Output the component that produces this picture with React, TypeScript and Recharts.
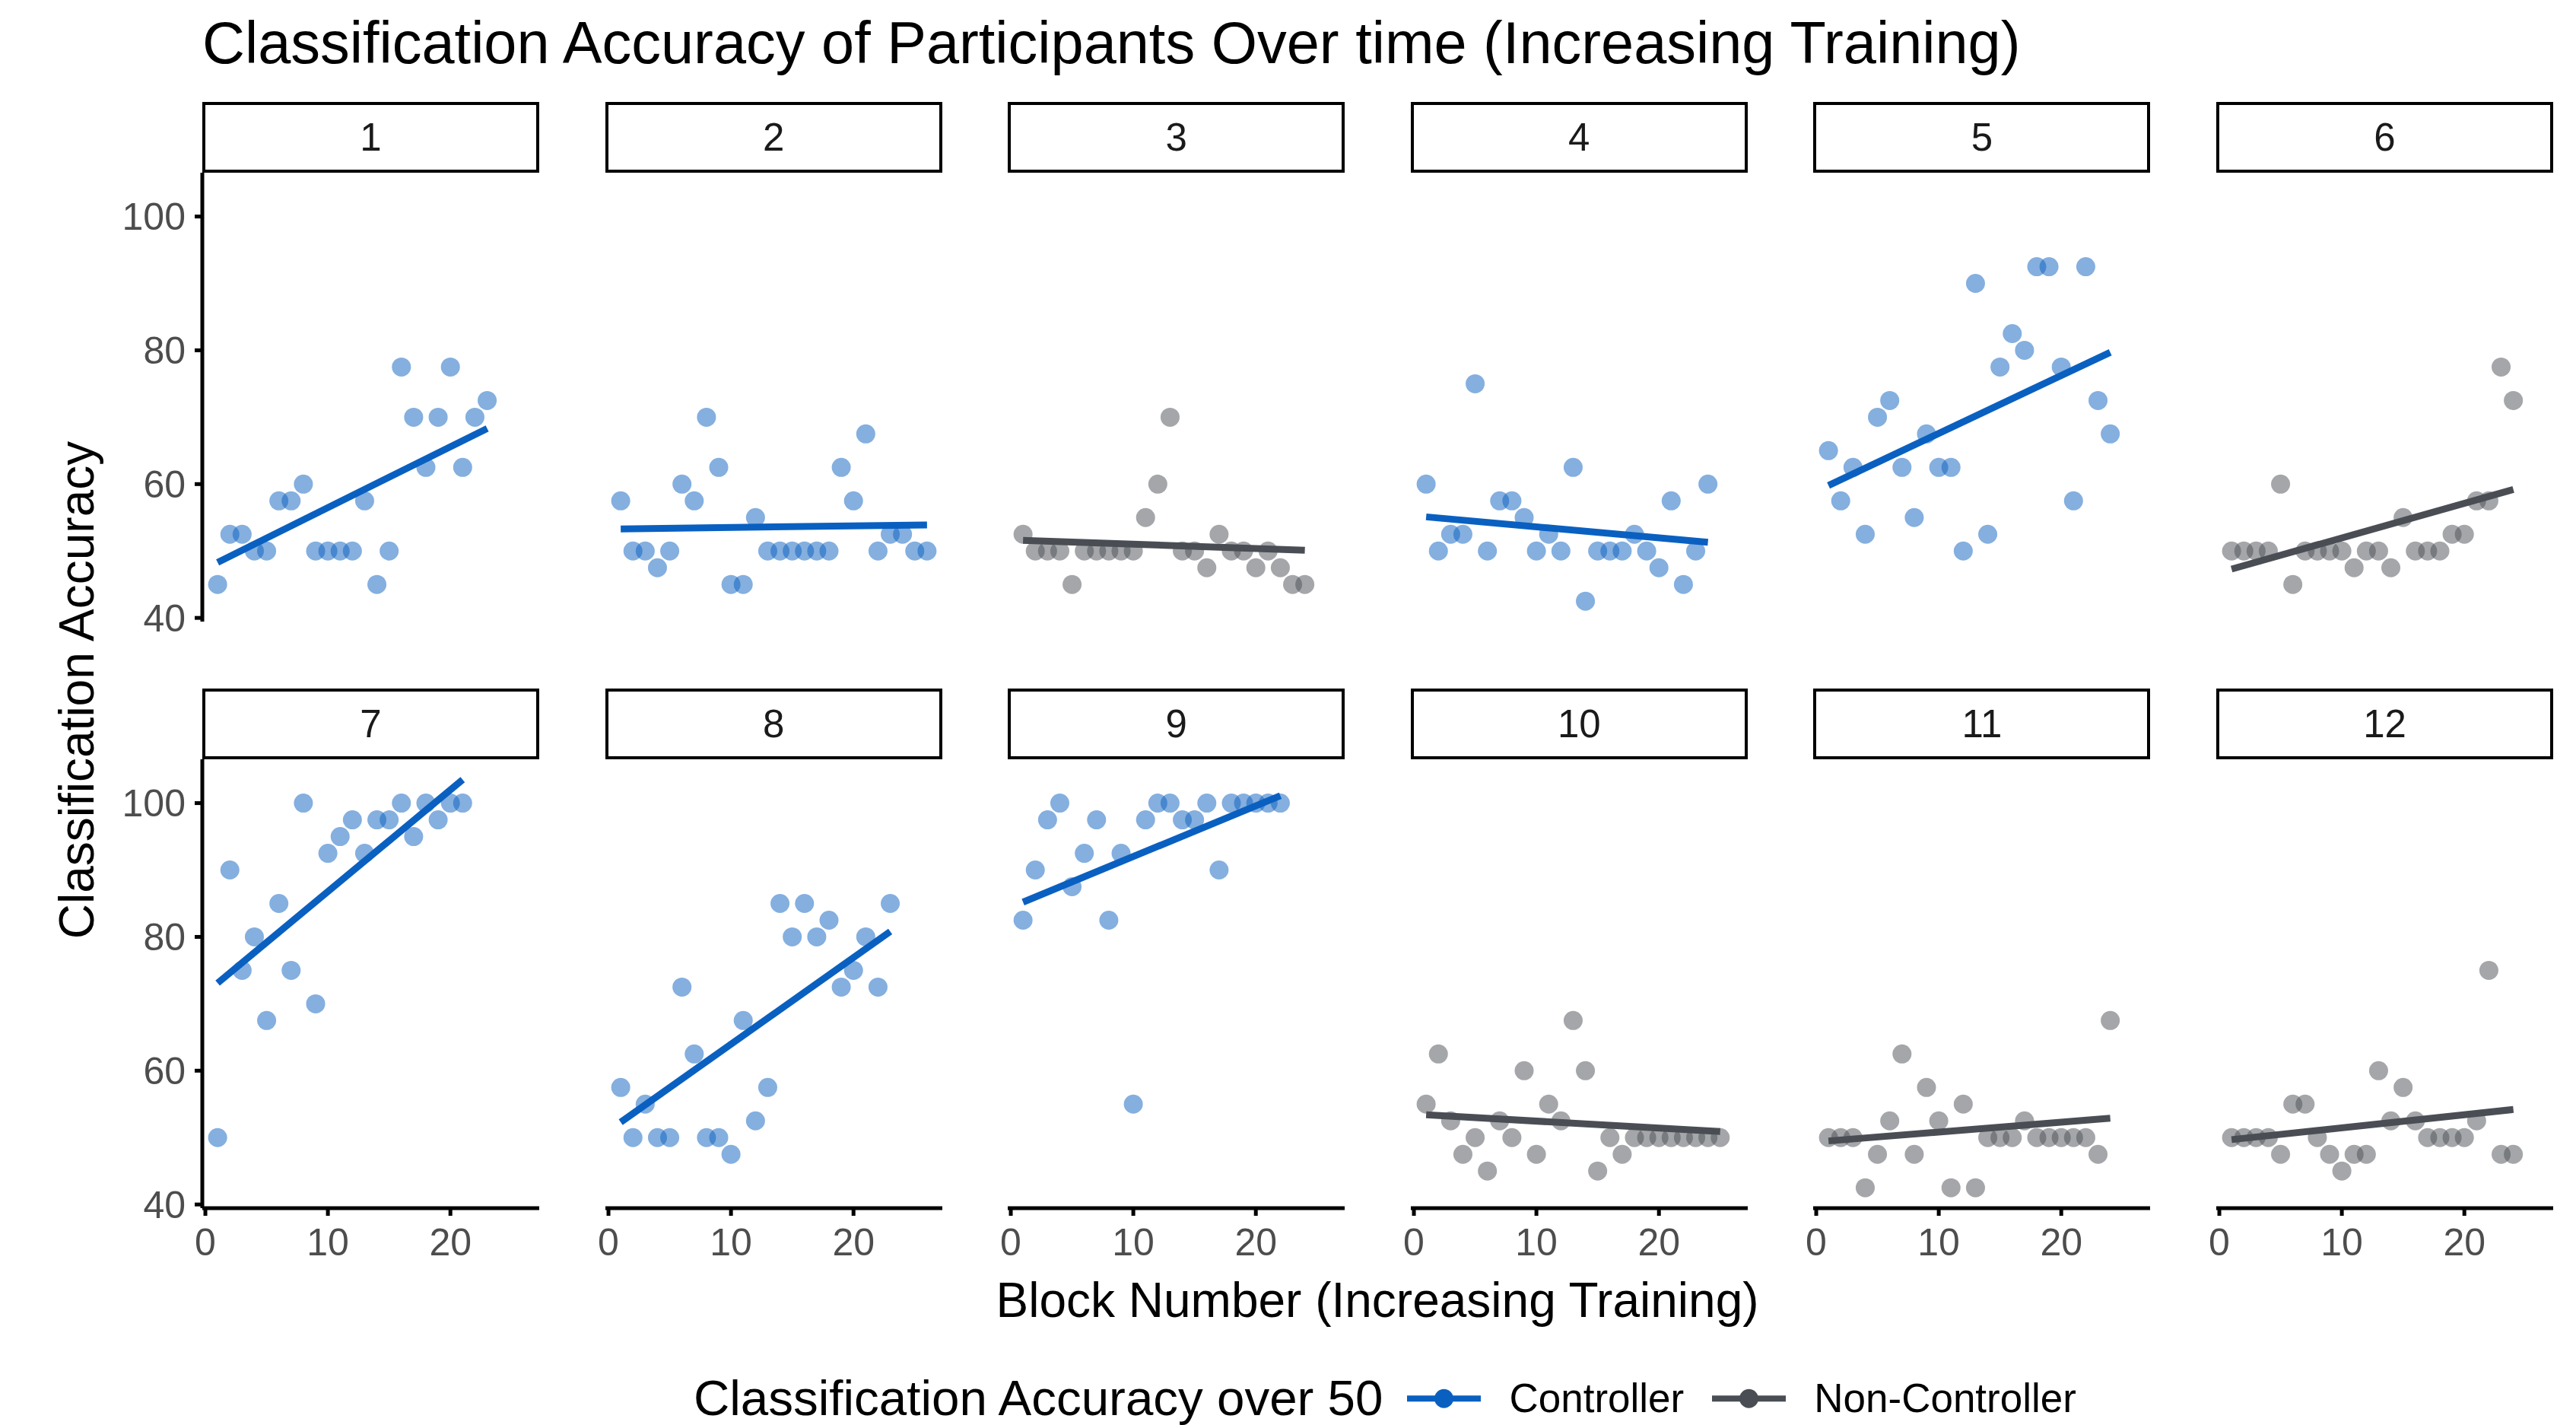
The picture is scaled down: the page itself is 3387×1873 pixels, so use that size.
import React from "react";
import { ComposedChart, Scatter, Line, XAxis, YAxis } from "recharts";

// accuracy per block (block = position in array, starting at 1), one array per participant
const ACC_1 = [45, 52.5, 52.5, 50, 50, 57.5, 57.5, 60, 50, 50, 50, 50, 57.5, 45, 50, 77.5, 70, 62.5, 70, 77.5, 62.5, 70, 72.5];
const ACC_2 = [57.5, 50, 50, 47.5, 50, 60, 57.5, 70, 62.5, 45, 45, 55, 50, 50, 50, 50, 50, 50, 62.5, 57.5, 67.5, 50, 52.5, 52.5, 50, 50];
const ACC_3 = [52.5, 50, 50, 50, 45, 50, 50, 50, 50, 50, 55, 60, 70, 50, 50, 47.5, 52.5, 50, 50, 47.5, 50, 47.5, 45, 45];
const ACC_4 = [60, 50, 52.5, 52.5, 75, 50, 57.5, 57.5, 55, 50, 52.5, 50, 62.5, 42.5, 50, 50, 50, 52.5, 50, 47.5, 57.5, 45, 50, 60];
const ACC_5 = [65, 57.5, 62.5, 52.5, 70, 72.5, 62.5, 55, 67.5, 62.5, 62.5, 50, 90, 52.5, 77.5, 82.5, 80, 92.5, 92.5, 77.5, 57.5, 92.5, 72.5, 67.5];
const ACC_6 = [50, 50, 50, 50, 60, 45, 50, 50, 50, 50, 47.5, 50, 50, 47.5, 55, 50, 50, 50, 52.5, 52.5, 57.5, 57.5, 77.5, 72.5];
const ACC_7 = [50, 90, 75, 80, 67.5, 85, 75, 100, 70, 92.5, 95, 97.5, 92.5, 97.5, 97.5, 100, 95, 100, 97.5, 100, 100];
const ACC_8 = [57.5, 50, 55, 50, 50, 72.5, 62.5, 50, 50, 47.5, 67.5, 52.5, 57.5, 85, 80, 85, 80, 82.5, 72.5, 75, 80, 72.5, 85];
const ACC_9 = [82.5, 90, 97.5, 100, 87.5, 92.5, 97.5, 82.5, 92.5, 55, 97.5, 100, 100, 97.5, 97.5, 100, 90, 100, 100, 100, 100, 100];
const ACC_10 = [55, 62.5, 52.5, 47.5, 50, 45, 52.5, 50, 60, 47.5, 55, 52.5, 67.5, 60, 45, 50, 47.5, 50, 50, 50, 50, 50, 50, 50, 50];
const ACC_11 = [50, 50, 50, 42.5, 47.5, 52.5, 62.5, 47.5, 57.5, 52.5, 42.5, 55, 42.5, 50, 50, 50, 52.5, 50, 50, 50, 50, 50, 47.5, 67.5];
const ACC_12 = [50, 50, 50, 50, 47.5, 55, 55, 50, 47.5, 45, 47.5, 47.5, 60, 52.5, 57.5, 52.5, 50, 50, 50, 50, 52.5, 75, 47.5, 47.5];

const PANEL_IDS = ["1", "2", "3", "4", "5", "6", "7", "8", "9", "10", "11", "12"];
const GROUP = [
  "Controller", "Controller", "Non-Controller", "Controller", "Controller", "Non-Controller",
  "Controller", "Controller", "Controller", "Non-Controller", "Non-Controller", "Non-Controller",
];

// lm trend line, value at first and at last block
const FIT_FIRST = [48.3, 53.3, 51.6, 55.1, 59.8, 47.3, 73.1, 52.3, 85.2, 53.4, 49.5, 49.7];
const FIT_LAST = [68.3, 53.9, 50.1, 51.3, 79.7, 59.2, 103.5, 80.8, 101.1, 50.9, 52.9, 54.2];

const X_TICKS = [0, 10, 20];
const Y_TICKS = [40, 60, 80, 100];
const LEGEND_ITEMS = ["Controller", "Non-Controller"];

const PANELS = [ACC_1, ACC_2, ACC_3, ACC_4, ACC_5, ACC_6, ACC_7, ACC_8, ACC_9, ACC_10, ACC_11, ACC_12];

const FONT = '"Liberation Sans", Arial, Helvetica, sans-serif';
const COLORS: Record<string, string> = { Controller: "#0a60c0", "Non-Controller": "#4a4e54" };

const PLOT_W = 443;
const PLOT_H = 590;
const COL_STEP = 529.6;
const LEFT0 = 266;
const ROW_Y = [227, 998];
const STRIP_H = 93;
const Y_AXIS_W = 140;
const X_AXIS_H = 100;
const PAD_BOTTOM = 40; // room for the lowest y tick label in the top row
const PAD_SIDE = 40; // room for the "0" x tick label in panels without a y axis
const X_DOMAIN: [number, number] = [-0.25, 27.25];
const Y_DOMAIN: [number, number] = [39.45, 106.55];

const axisStyle = { stroke: "#000", strokeWidth: 5 };
const tickStyle = { fill: "#4d4d4d", fontSize: 50, fontFamily: FONT };

function Panel({ index }: { index: number }) {
  const col = index % 6;
  const row = Math.floor(index / 6);
  const showY = col === 0;
  const showX = row === 1;
  const color = COLORS[GROUP[index]];
  const acc = PANELS[index];
  const points = acc.map((v, i) => ({ block: i + 1, acc: v }));
  const fit = [
    { block: 1, acc: FIT_FIRST[index] },
    { block: acc.length, acc: FIT_LAST[index] },
  ];
  const left = LEFT0 + col * COL_STEP;
  const padLeft = showY ? 0 : PAD_SIDE;
  const offset = showY ? Y_AXIS_W : PAD_SIDE;
  const width = PLOT_W + offset + PAD_SIDE;
  const bottom = showX ? 0 : PAD_BOTTOM;
  const height = PLOT_H + (showX ? X_AXIS_H : 0) + bottom;

  return (
    <>
      <div
        style={{
          position: "absolute",
          left,
          top: ROW_Y[row] - STRIP_H,
          width: PLOT_W,
          height: STRIP_H,
          boxSizing: "border-box",
          border: "4.5px solid #000",
          background: "#fff",
          display: "flex",
          alignItems: "center",
          justifyContent: "center",
          fontSize: 51,
          color: "#1a1a1a",
        }}
      >
        {PANEL_IDS[index]}
      </div>
      <div style={{ position: "absolute", left: left - offset, top: ROW_Y[row] }}>
        <ComposedChart
          width={width}
          height={height}
          margin={{ top: 0, right: PAD_SIDE, bottom, left: padLeft }}
        >
          <XAxis
            type="number"
            dataKey="block"
            domain={X_DOMAIN}
            ticks={X_TICKS}
            interval={0}
            allowDataOverflow
            hide={!showX}
            height={X_AXIS_H}
            axisLine={axisStyle}
            tickLine={axisStyle}
            tickSize={10}
            tickMargin={16}
            tick={tickStyle}
          />
          <YAxis
            type="number"
            dataKey="acc"
            domain={Y_DOMAIN}
            ticks={Y_TICKS}
            interval={0}
            allowDataOverflow
            hide={!showY}
            width={Y_AXIS_W}
            axisLine={axisStyle}
            tickLine={axisStyle}
            tickSize={10}
            tickMargin={12}
            tick={tickStyle}
          />
          <Scatter
            data={points}
            dataKey="acc"
            isAnimationActive={false}
            shape={(p: any) => <circle cx={p.cx} cy={p.cy} r={12.5} fill={color} fillOpacity={0.5} />}
          />
          <Line
            data={fit}
            dataKey="acc"
            type="linear"
            stroke={color}
            strokeWidth={9}
            dot={false}
            activeDot={false}
            isAnimationActive={false}
          />
        </ComposedChart>
      </div>
    </>
  );
}

function LegendKey({ color }: { color: string }) {
  return (
    <svg width={97} height={30} style={{ display: "block" }}>
      <line x1={0} y1={15} x2={97} y2={15} stroke={color} strokeWidth={8} />
      <circle cx={48.5} cy={15} r={12.5} fill={color} />
    </svg>
  );
}

export default function App() {
  return (
    <div
      style={{
        position: "absolute",
        left: 0,
        top: 0,
        width: 3387,
        height: 1873,
        background: "#fff",
        fontFamily: FONT,
        overflow: "hidden",
      }}
    >
      <div style={{ position: "absolute", left: 266, top: 18, fontSize: 77.5, lineHeight: 1, whiteSpace: "nowrap", color: "#000" }}>
        Classification Accuracy of Participants Over time (Increasing Training)
      </div>

      {PANEL_IDS.map((_, i) => (
        <Panel key={i} index={i} />
      ))}

      <div
        style={{
          position: "absolute",
          left: 101,
          top: 907,
          transform: "translate(-50%, -50%) rotate(-90deg)",
          fontSize: 64,
          lineHeight: 1,
          whiteSpace: "nowrap",
          color: "#000",
        }}
      >
        Classification Accuracy
      </div>

      <div
        style={{
          position: "absolute",
          left: 1811,
          top: 1709,
          transform: "translate(-50%, -50%)",
          fontSize: 64,
          lineHeight: 1,
          whiteSpace: "nowrap",
          color: "#000",
        }}
      >
        Block Number (Increasing Training)
      </div>

      <div
        style={{
          position: "absolute",
          left: 912,
          top: 1838,
          transform: "translateY(-50%)",
          display: "flex",
          alignItems: "center",
          whiteSpace: "nowrap",
          lineHeight: 1,
        }}
      >
        <span style={{ fontSize: 65.5, marginRight: 32 }}>Classification Accuracy over 50</span>
        {LEGEND_ITEMS.map((name, i) => (
          <React.Fragment key={name}>
            <LegendKey color={COLORS[name]} />
            <span style={{ fontSize: 53, marginLeft: 37, marginRight: i === 0 ? 37 : 0 }}>{name}</span>
          </React.Fragment>
        ))}
      </div>
    </div>
  );
}
